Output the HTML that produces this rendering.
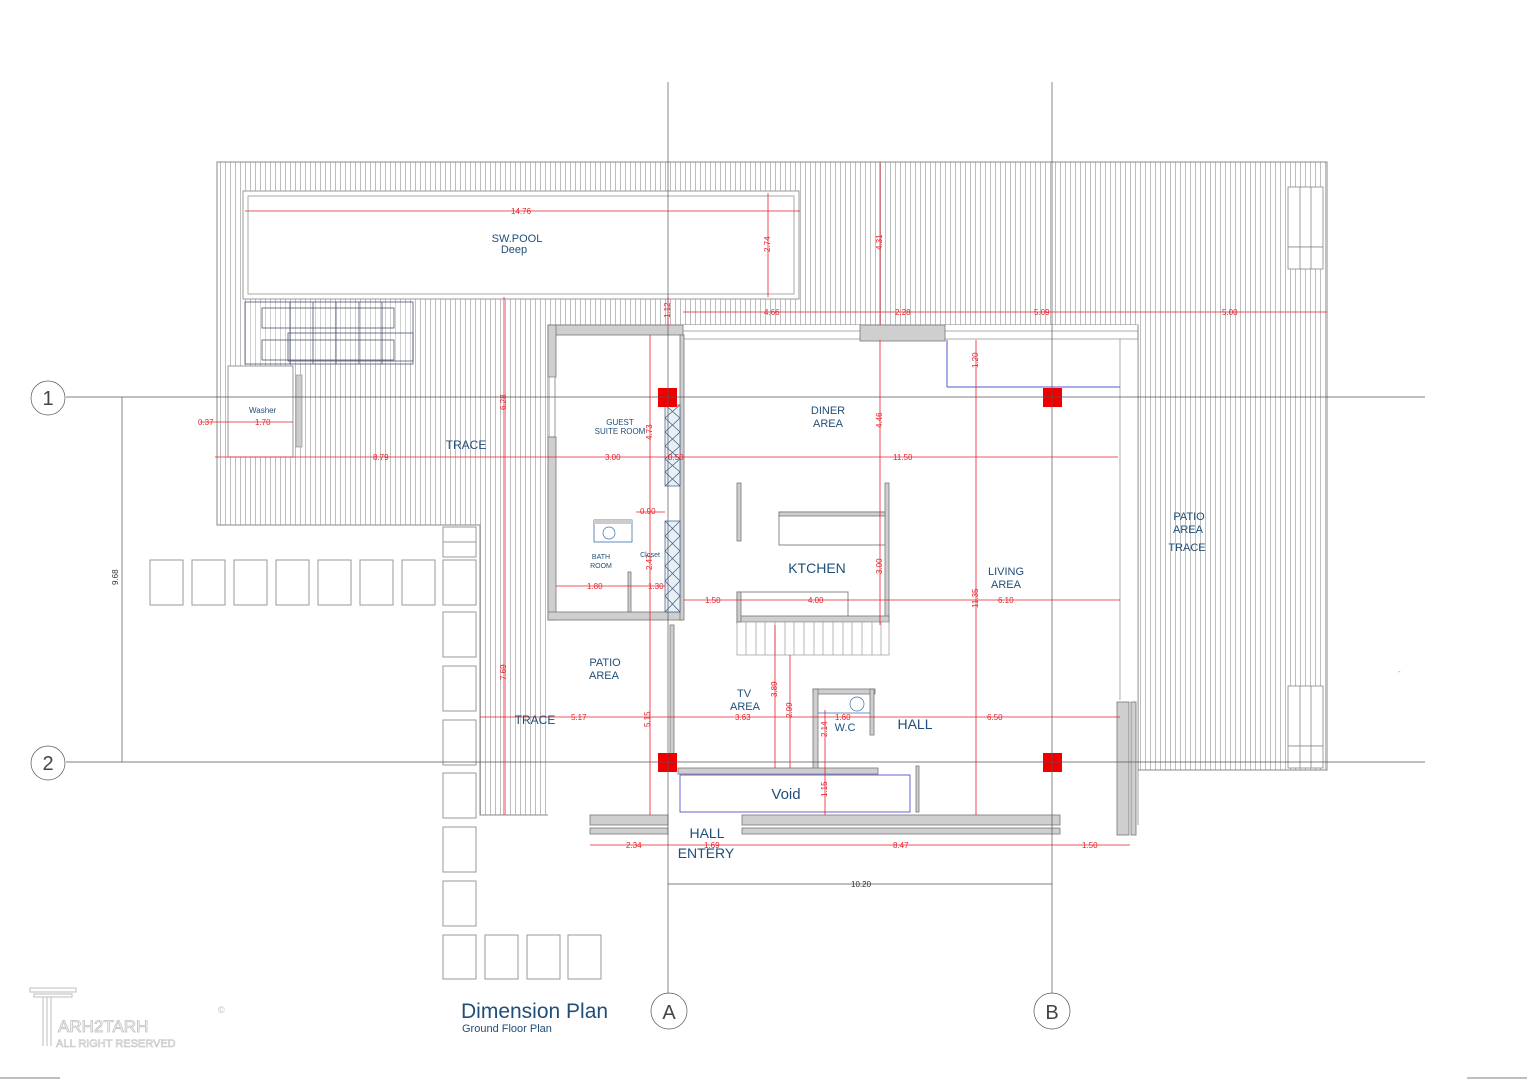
<!DOCTYPE html>
<html><head><meta charset="utf-8"><style>
html,body{margin:0;padding:0;background:#fff;width:1527px;height:1080px;overflow:hidden}
svg{display:block}
text{font-family:"Liberation Sans",sans-serif}
.b{fill:#1f4e79}
.r{fill:#e8202a;font-size:8px}
.dl{stroke:#e8202a;stroke-width:0.8;fill:none}
.w{fill:#cfcfcf;stroke:#777;stroke-width:0.8}
.g{stroke:#555;stroke-width:0.7;fill:none}
.p{fill:#fff;stroke:#999;stroke-width:1}
</style></head><body>
<svg width="1527" height="1080" viewBox="0 0 1527 1080" xmlns="http://www.w3.org/2000/svg">
<defs>
<pattern id="h" x="0" y="0" width="5" height="10" patternUnits="userSpaceOnUse">
<line x1="0.5" y1="0" x2="0.5" y2="10" stroke="#a2a2a2" stroke-width="0.7"/>
</pattern>
</defs>
<path d="M217,162 H1327 V770 H1138 V325 H548 V620 H668 V815 H480 V525 H217 Z" fill="url(#h)" stroke="#888" stroke-width="1"/>
<g fill="#fff" stroke="#888" stroke-width="0.8">
<rect x="1288" y="187" width="35" height="60"/><rect x="1288" y="247" width="35" height="22"/>
<rect x="1288" y="686" width="35" height="60"/><rect x="1288" y="746" width="35" height="22"/>
<line x1="1300" y1="187" x2="1300" y2="269"/><line x1="1311" y1="187" x2="1311" y2="269"/>
<line x1="1300" y1="686" x2="1300" y2="768"/><line x1="1311" y1="686" x2="1311" y2="768"/>
</g>
<rect x="243" y="191" width="556" height="108" fill="#fff" stroke="#999"/>
<rect x="248" y="196" width="546" height="98" fill="#fff" stroke="#aaa"/>
<g stroke="#4a5570" stroke-width="0.8" fill="none">
<rect x="245" y="302" width="168" height="62" fill="#fff" fill-opacity="0.3"/>
<rect x="262" y="308" width="132" height="20"/><rect x="262" y="340" width="132" height="20"/>
<rect x="288" y="333" width="125" height="28"/>
<line x1="290" y1="302" x2="290" y2="364"/><line x1="313" y1="302" x2="313" y2="364"/><line x1="336" y1="302" x2="336" y2="364"/><line x1="359" y1="302" x2="359" y2="364"/><line x1="382" y1="302" x2="382" y2="364"/>
</g>
<rect x="228" y="366" width="65" height="91" fill="#fff" stroke="#999"/>
<rect x="296" y="375" width="6" height="72" fill="#ccc" stroke="#888" stroke-width="0.6"/>
<text x="249" y="413" class="b" font-size="8">Washer</text>
<rect x="548" y="325" width="590" height="500" fill="#fff"/>
<rect x="668" y="620" width="15" height="195" fill="#fff"/>
<g class="g"><rect x="683" y="331" width="455" height="8" fill="none" stroke="#888"/>
<line x1="1120" y1="339" x2="1120" y2="700" stroke="#888"/><line x1="1138" y1="325" x2="1138" y2="825" stroke="#777"/></g>
<rect class="w" x="548" y="325" width="135" height="10"/>
<rect class="w" x="860" y="325" width="85" height="16"/>
<rect class="w" x="548" y="325" width="8" height="52"/>
<rect x="549" y="377" width="6" height="60" fill="#fff" stroke="#999"/>
<rect class="w" x="548" y="437" width="8" height="183"/>
<rect class="w" x="548" y="612" width="135" height="8"/>
<rect class="w" x="680" y="335" width="4" height="285"/>
<g fill="#e8f0f6" stroke="#3a5a80" stroke-width="0.7">
<rect x="665" y="405" width="15" height="81"/><rect x="665" y="521" width="15" height="91"/>
<path d="M665,405 L680,418 M680,405 L665,418 M665,418 L680,432 M680,418 L665,432 M665,432 L680,446 M680,432 L665,446 M665,446 L680,459 M680,446 L665,459 M665,459 L680,472 M680,459 L665,472 M665,472 L680,486 M680,472 L665,486"/>
<path d="M665,521 L680,536 M680,521 L665,536 M665,536 L680,551 M680,536 L665,551 M665,551 L680,566 M680,551 L665,566 M665,566 L680,581 M680,566 L665,581 M665,581 L680,596 M680,581 L665,596 M665,596 L680,612 M680,596 L665,612"/>
</g>
<rect x="594" y="520" width="38" height="22" fill="#fff" stroke="#3a6fb0" stroke-width="0.8"/>
<rect x="594" y="520" width="38" height="4" fill="#ccc"/>
<circle cx="609" cy="533" r="6" fill="none" stroke="#3a6fb0" stroke-width="0.7"/>
<rect class="w" x="628" y="572" width="3" height="40"/>
<rect class="w" x="737" y="483" width="4" height="58"/>
<rect class="w" x="885" y="483" width="4" height="140"/>
<rect x="779" y="512" width="106" height="33" fill="#fff" stroke="#888"/><rect class="w" x="779" y="512" width="106" height="4"/>
<rect x="737" y="592" width="111" height="32" fill="#fff" stroke="#888"/><rect class="w" x="737" y="616" width="152" height="6"/>
<g stroke="#999" stroke-width="0.7" fill="#fff"><rect x="737" y="622" width="152" height="33"/>
<path d="M746,622V655M756,622V655M765,622V655M775,622V655M785,622V655M794,622V655M804,622V655M814,622V655M823,622V655M833,622V655M843,622V655M852,622V655M862,622V655M872,622V655M881,622V655"/></g>
<rect class="w" x="737" y="592" width="4" height="30"/>
<rect class="w" x="813" y="689" width="62" height="5"/>
<rect class="w" x="813" y="689" width="5" height="80"/>
<rect class="w" x="870" y="689" width="4" height="46"/>
<line x1="818" y1="713" x2="870" y2="713" stroke="#3a6fb0" stroke-width="0.8"/>
<circle cx="857" cy="704" r="7" fill="none" stroke="#3a6fb0" stroke-width="0.7"/>
<rect class="w" x="678" y="768" width="200" height="6"/>
<rect x="680" y="775" width="230" height="37" fill="#fff" stroke="#5555cc" stroke-width="0.9"/>
<rect class="w" x="916" y="766" width="3" height="46"/>
<rect class="w" x="590" y="815" width="78" height="10"/><rect class="w" x="590" y="828" width="78" height="6"/>
<rect class="w" x="742" y="815" width="318" height="10"/><rect class="w" x="742" y="828" width="318" height="6"/>
<rect class="w" x="1117" y="702" width="12" height="133"/><rect class="w" x="1131" y="702" width="5" height="133"/>
<rect class="w" x="670" y="625" width="4" height="140"/>
<line x1="947" y1="340" x2="947" y2="387" stroke="#5555cc"/><line x1="947" y1="387" x2="1120" y2="387" stroke="#5555cc"/>
<g fill="#ee0000"><rect x="658" y="388" width="19" height="19"/><rect x="1043" y="388" width="19" height="19"/><rect x="658" y="753" width="19" height="19"/><rect x="1043" y="753" width="19" height="19"/></g>
<g class="p">
<rect x="150" y="560" width="33" height="45"/><rect x="192" y="560" width="33" height="45"/><rect x="234" y="560" width="33" height="45"/><rect x="276" y="560" width="33" height="45"/><rect x="318" y="560" width="33" height="45"/><rect x="360" y="560" width="33" height="45"/><rect x="402" y="560" width="33" height="45"/><rect x="443" y="560" width="33" height="45"/>
<rect x="443" y="527" width="33" height="15"/><rect x="443" y="542" width="33" height="15"/>
<rect x="443" y="612" width="33" height="45"/><rect x="443" y="666" width="33" height="45"/><rect x="443" y="720" width="33" height="45"/><rect x="443" y="773" width="33" height="45"/><rect x="443" y="827" width="33" height="45"/><rect x="443" y="881" width="33" height="45"/><rect x="443" y="935" width="33" height="44"/>
<rect x="485" y="935" width="33" height="44"/><rect x="527" y="935" width="33" height="44"/><rect x="568" y="935" width="33" height="44"/>
</g>
<g class="g">
<line x1="668" y1="82" x2="668" y2="993"/><line x1="1052" y1="82" x2="1052" y2="993"/>
<line x1="66" y1="397" x2="1425" y2="397"/><line x1="66" y1="762" x2="1425" y2="762"/>
<circle cx="48" cy="398" r="17" fill="#fff"/><circle cx="48" cy="763" r="17" fill="#fff"/>
<circle cx="669" cy="1011" r="18" fill="#fff"/><circle cx="1052" cy="1011" r="18" fill="#fff"/>
<line x1="122" y1="397" x2="122" y2="762"/><line x1="668" y1="884" x2="1052" y2="884"/>
<line x1="0" y1="1078" x2="60" y2="1078"/><line x1="1467" y1="1078" x2="1527" y2="1078"/>
</g>
<g font-size="20" fill="#444" text-anchor="middle"><text x="48" y="405">1</text><text x="48" y="770">2</text><text x="669" y="1019">A</text><text x="1052" y="1019">B</text></g>
<text x="118" y="585" font-size="8" fill="#333" transform="rotate(-90 118 585)">9.68</text>
<text x="851" y="887" font-size="8" fill="#333">10.20</text>
<g class="dl">
<line x1="245" y1="211" x2="800" y2="211"/><line x1="768" y1="193" x2="768" y2="297"/><line x1="880" y1="162" x2="880" y2="325"/>
<line x1="683" y1="312" x2="1327" y2="312"/><line x1="668" y1="297" x2="668" y2="325"/>
<line x1="504" y1="297" x2="504" y2="815"/><line x1="200" y1="422" x2="293" y2="422"/>
<line x1="215" y1="457" x2="1118" y2="457"/><line x1="650" y1="335" x2="650" y2="815"/>
<line x1="880" y1="340" x2="880" y2="625"/><line x1="976" y1="340" x2="976" y2="815"/>
<line x1="556" y1="586" x2="665" y2="586"/><line x1="636" y1="512" x2="665" y2="512"/>
<line x1="684" y1="600" x2="1120" y2="600"/><line x1="480" y1="717" x2="1120" y2="717"/>
<line x1="775" y1="625" x2="775" y2="768"/><line x1="790" y1="655" x2="790" y2="768"/>
<line x1="825" y1="710" x2="825" y2="815"/><line x1="590" y1="845" x2="1130" y2="845"/>
</g>
<g class="r">
<text x="511" y="214">14.76</text><text x="770" y="252" transform="rotate(-90 770 252)">2.74</text>
<text x="882" y="250" transform="rotate(-90 882 250)">4.31</text>
<text x="670" y="318" transform="rotate(-90 670 318)">1.12</text>
<text x="764" y="315">4.66</text><text x="895" y="315">2.28</text><text x="1034" y="315">5.09</text><text x="1222" y="315">5.00</text>
<text x="506" y="410" transform="rotate(-90 506 410)">6.28</text>
<text x="198" y="425">0.37</text><text x="255" y="425">1.70</text>
<text x="373" y="460">8.79</text><text x="605" y="460">3.00</text><text x="668" y="460">0.50</text><text x="893" y="460">11.50</text>
<text x="652" y="440" transform="rotate(-90 652 440)">4.73</text>
<text x="882" y="428" transform="rotate(-90 882 428)">4.46</text>
<text x="978" y="368" transform="rotate(-90 978 368)">1.20</text>
<text x="640" y="514">0.90</text><text x="652" y="570" transform="rotate(-90 652 570)">2.47</text>
<text x="587" y="589">1.80</text><text x="648" y="589">1.30</text>
<text x="705" y="603">1.50</text><text x="808" y="603">4.00</text><text x="998" y="603">6.10</text>
<text x="882" y="574" transform="rotate(-90 882 574)">3.00</text><text x="978" y="608" transform="rotate(-90 978 608)">11.35</text>
<text x="506" y="680" transform="rotate(-90 506 680)">7.69</text><text x="650" y="727" transform="rotate(-90 650 727)">5.15</text>
<text x="571" y="720">5.17</text><text x="735" y="720">3.63</text><text x="835" y="720">1.60</text><text x="987" y="720">6.50</text>
<text x="777" y="697" transform="rotate(-90 777 697)">3.89</text><text x="792" y="718" transform="rotate(-90 792 718)">2.99</text>
<text x="827" y="737" transform="rotate(-90 827 737)">2.14</text><text x="827" y="797" transform="rotate(-90 827 797)">1.15</text>
<text x="626" y="848">2.34</text><text x="704" y="848">1.69</text><text x="893" y="848">8.47</text><text x="1082" y="848">1.50</text>
</g>
<g class="b" text-anchor="middle">
<text x="517" y="242" font-size="11">SW.POOL</text><text x="514" y="253" font-size="11">Deep</text>
<text x="466" y="449" font-size="12">TRACE</text>
<text x="620" y="425" font-size="8">GUEST</text><text x="620" y="434" font-size="8">SUITE ROOM</text>
<text x="828" y="414" font-size="11">DINER</text><text x="828" y="427" font-size="11">AREA</text>
<text x="601" y="559" font-size="7">BATH</text><text x="601" y="568" font-size="7">ROOM</text>
<text x="650" y="557" font-size="7">Closet</text>
<text x="817" y="573" font-size="14">KTCHEN</text>
<text x="1006" y="575" font-size="11">LIVING</text><text x="1006" y="588" font-size="11">AREA</text>
<text x="1189" y="520" font-size="11">PATIO</text><text x="1188" y="533" font-size="11">AREA</text><text x="1187" y="551" font-size="11">TRACE</text>
<text x="605" y="666" font-size="11">PATIO</text><text x="604" y="679" font-size="11">AREA</text>
<text x="744" y="697" font-size="11">TV</text><text x="745" y="710" font-size="11">AREA</text>
<text x="535" y="724" font-size="12">TRACE</text>
<text x="845" y="731" font-size="11">W.C</text>
<text x="915" y="729" font-size="14">HALL</text>
<text x="786" y="799" font-size="15">Void</text>
<text x="707" y="838" font-size="14">HALL</text><text x="706" y="858" font-size="14">ENTERY</text>
</g>
<text x="461" y="1018" font-size="21" class="b">Dimension Plan</text>
<text x="462" y="1032" font-size="11" class="b">Ground Floor Plan</text>
<g fill="none" stroke="#c8c8c8" stroke-width="1.2">
<rect x="30" y="988" width="46" height="4"/><rect x="34" y="994" width="38" height="3"/>
<line x1="43" y1="997" x2="43" y2="1046"/><line x1="47" y1="997" x2="47" y2="1046"/><line x1="51" y1="997" x2="51" y2="1046"/>
</g>
<text x="58" y="1032" font-size="17" fill="#fff" stroke="#c0c0c0" stroke-width="0.8">ARH2TARH</text>
<text x="56" y="1047" font-size="11" fill="#fff" stroke="#c0c0c0" stroke-width="0.6">ALL RIGHT RESERVED</text>
<text x="218" y="1013" font-size="9" fill="#bbb">©</text>
<text x="1398" y="674" font-size="8" fill="#999">-</text>
</svg>
</body></html>
